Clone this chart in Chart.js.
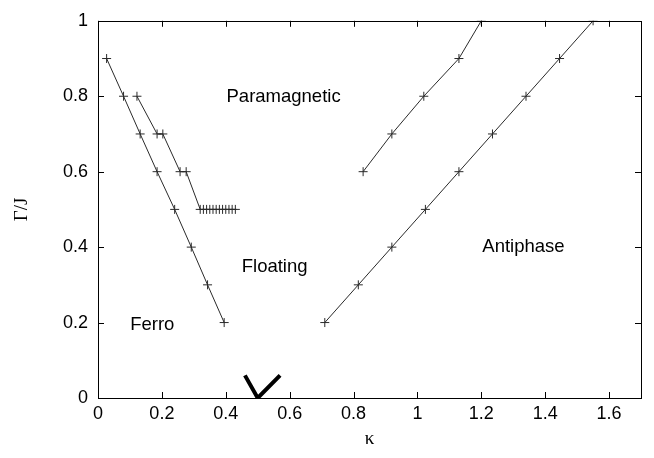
<!DOCTYPE html>
<html>
<head>
<meta charset="utf-8">
<script src="https://cdn.jsdelivr.net/npm/chart.js@4.4.1/dist/chart.umd.min.js"></script>
<style>
html,body{margin:0;padding:0;background:#fff;}
#wrap{width:654px;height:458px;}
</style>
</head>
<body>
<div id="wrap"><canvas id="c" width="654" height="458"></canvas></div>
<script>
// Phase boundary data (kappa, Gamma/J)
const ferroKappa = [0.027, 0.080, 0.132, 0.185, 0.240, 0.292, 0.343, 0.395];
const ferroGamma = [0.9, 0.8, 0.7, 0.6, 0.5, 0.4, 0.3, 0.2];

const floatKappa = [0.122, 0.185, 0.203, 0.257, 0.276, 0.32, 0.33, 0.34, 0.35, 0.36, 0.37, 0.38, 0.39, 0.40, 0.41, 0.42, 0.43];
const floatGamma = [0.8, 0.7, 0.7, 0.6, 0.6, 0.5, 0.5, 0.5, 0.5, 0.5, 0.5, 0.5, 0.5, 0.5, 0.5, 0.5, 0.5];

const paraKappa = [0.83, 0.92, 1.02, 1.13, 1.20];
const paraGamma = [0.6, 0.7, 0.8, 0.9, 1.0];

const antiKappa = [0.71, 0.815, 0.92, 1.025, 1.13, 1.235, 1.34, 1.445, 1.55];
const antiGamma = [0.2, 0.3, 0.4, 0.5, 0.6, 0.7, 0.8, 0.9, 1.0];

const vKappa = [0.46, 0.50, 0.57];
const vGamma = [0.06, 0.0, 0.06];

const xTicks = [0, 0.2, 0.4, 0.6, 0.8, 1, 1.2, 1.4, 1.6];
const yTicks = [0, 0.2, 0.4, 0.6, 0.8, 1];

const regionNames = ["Paramagnetic", "Floating", "Ferro", "Antiphase"];
const regionKappa = [0.581, 0.553, 0.170, 1.332];
const regionGamma = [0.797, 0.347, 0.195, 0.401];

const zip = (xs, ys) => xs.map((x, i) => ({x: x, y: ys[i]}));

const lineColor = '#2a2a2a';
function boundary(xs, ys) {
  return {
    data: zip(xs, ys),
    showLine: true,
    borderColor: lineColor,
    backgroundColor: lineColor,
    borderWidth: 1,
    pointStyle: 'cross',
    pointRadius: 4.5,
    pointBorderWidth: 1,
    pointBorderColor: lineColor,
    tension: 0
  };
}

const frameAndTicks = {
  id: 'frameAndTicks',
  afterDatasetsDraw(chart) {
    const ctx = chart.ctx;
    const a = chart.chartArea;
    const xs = chart.scales.x, ys = chart.scales.y;
    const L = 6;
    ctx.save();
    ctx.strokeStyle = '#000';
    ctx.lineWidth = 1;
    ctx.beginPath();
    xTicks.forEach(v => {
      const px = Math.round(xs.getPixelForValue(v)) + 0.5;
      ctx.moveTo(px, a.bottom); ctx.lineTo(px, a.bottom - L);
      ctx.moveTo(px, a.top); ctx.lineTo(px, a.top + L);
    });
    yTicks.forEach(v => {
      const py = Math.round(ys.getPixelForValue(v)) + 0.5;
      ctx.moveTo(a.left, py); ctx.lineTo(a.left + L, py);
      ctx.moveTo(a.right, py); ctx.lineTo(a.right - L, py);
    });
    ctx.stroke();
    ctx.strokeRect(Math.round(a.left) + 0.5, Math.round(a.top) + 0.5,
                   Math.round(a.right - a.left), Math.round(a.bottom - a.top));
    // region labels
    ctx.fillStyle = '#000';
    ctx.font = '18.5px "Liberation Sans", Arial, sans-serif';
    ctx.textAlign = 'center';
    ctx.textBaseline = 'middle';
    regionNames.forEach((n, i) => {
      ctx.fillText(n, xs.getPixelForValue(regionKappa[i]), ys.getPixelForValue(regionGamma[i]));
    });
    ctx.restore();
  }
};

new Chart(document.getElementById('c'), {
  type: 'scatter',
  data: {
    datasets: [
      boundary(ferroKappa, ferroGamma),
      boundary(floatKappa, floatGamma),
      boundary(paraKappa, paraGamma),
      boundary(antiKappa, antiGamma),
      {
        data: zip(vKappa, vGamma),
        showLine: true,
        borderColor: '#000',
        borderWidth: 4,
        pointRadius: 0,
        tension: 0
      }
    ]
  },
  options: {
    responsive: false,
    animation: false,
    devicePixelRatio: 1,
    layout: { padding: { left: 0, right: 13, top: 9, bottom: 0 } },
    plugins: { legend: { display: false }, tooltip: { enabled: false } },
    scales: {
      x: {
        type: 'linear',
        min: 0, max: 1.7,
        afterBuildTicks: s => { s.ticks = xTicks.map(v => ({value: v})); },
        afterFit: s => { s.height = 60; },
        grid: { display: false, drawTicks: false },
        border: { display: false },
        ticks: {
          color: '#000',
          padding: 5,
          font: { family: '"Liberation Sans", Arial, sans-serif', size: 18 },
          callback: v => String(v)
        },
        title: {
          display: true,
          text: 'κ',
          color: '#000',
          font: { family: '"Liberation Serif", "DejaVu Serif", serif', size: 19 },
          padding: { top: 0, bottom: 8 }
        }
      },
      y: {
        type: 'linear',
        min: 0, max: 1,
        afterBuildTicks: s => { s.ticks = yTicks.map(v => ({value: v})); },
        afterFit: s => { s.width = 98; },
        grid: { display: false, drawTicks: false },
        border: { display: false },
        ticks: {
          color: '#000',
          padding: 10,
          font: { family: '"Liberation Sans", Arial, sans-serif', size: 18 },
          callback: v => String(v)
        },
        title: {
          display: true,
          text: 'Γ/J',
          color: '#000',
          font: { family: '"Liberation Serif", "DejaVu Serif", serif', size: 19 },
          padding: { top: 11, bottom: 0 }
        }
      }
    }
  },
  plugins: [frameAndTicks]
});
</script>
</body>
</html>
